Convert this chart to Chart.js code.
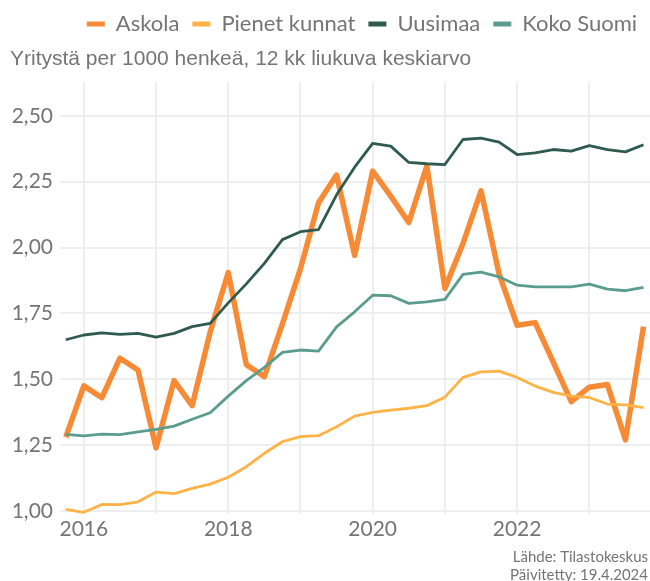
<!DOCTYPE html>
<html>
<head>
<meta charset="utf-8">
<script src="https://cdn.jsdelivr.net/npm/chart.js@4"></script>
<style>
  html, body { margin: 0; padding: 0; background: #fff; }
  #wrap { width: 650px; height: 581px; }
</style>
</head>
<body>
<div id="wrap"><canvas id="chart" width="650" height="581"></canvas></div>
<script>
// quarterly periods, 12-month rolling average
const quarters = [
  "2015Q4",
  "2016Q1", "2016Q2", "2016Q3", "2016Q4",
  "2017Q1", "2017Q2", "2017Q3", "2017Q4",
  "2018Q1", "2018Q2", "2018Q3", "2018Q4",
  "2019Q1", "2019Q2", "2019Q3", "2019Q4",
  "2020Q1", "2020Q2", "2020Q3", "2020Q4",
  "2021Q1", "2021Q2", "2021Q3", "2021Q4",
  "2022Q1", "2022Q2", "2022Q3", "2022Q4",
  "2023Q1", "2023Q2", "2023Q3", "2023Q4"
];

const askola = [
  1.28, 1.475, 1.43, 1.58, 1.535, 1.24, 1.495, 1.40, 1.68,
  1.905, 1.555, 1.51, 1.71, 1.92, 2.17, 2.275, 1.97,
  2.29, 2.195, 2.095, 2.31, 1.845, 2.015, 2.215, 1.90,
  1.705, 1.715, 1.565, 1.415, 1.47, 1.48, 1.27, 1.70
];

const pienetKunnat = [
  1.006, 0.995, 1.025, 1.024, 1.035, 1.072, 1.066, 1.086, 1.102,
  1.128, 1.168, 1.219, 1.263, 1.282, 1.286, 1.32, 1.36,
  1.374, 1.383, 1.39, 1.40, 1.432, 1.507, 1.528, 1.531,
  1.507, 1.474, 1.45, 1.436, 1.431, 1.406, 1.403, 1.392
];

const uusimaa = [
  1.65, 1.668, 1.676, 1.67, 1.674, 1.66, 1.674, 1.70, 1.712,
  1.79, 1.862, 1.94, 2.03, 2.06, 2.068, 2.20, 2.305,
  2.395, 2.385, 2.323, 2.318, 2.315, 2.41, 2.415, 2.40,
  2.353, 2.359, 2.372, 2.366, 2.387, 2.372, 2.363, 2.39
];

const kokoSuomi = [
  1.291, 1.285, 1.292, 1.29, 1.30, 1.31, 1.322, 1.348, 1.373,
  1.436, 1.495, 1.545, 1.602, 1.611, 1.607, 1.699, 1.756,
  1.819, 1.817, 1.788, 1.794, 1.803, 1.898, 1.907, 1.889,
  1.857, 1.851, 1.851, 1.851, 1.861, 1.842, 1.836, 1.849
];

const yTicks = [1.00, 1.25, 1.50, 1.75, 2.00, 2.25, 2.50];
const xGridYears = [2016, 2017, 2018, 2019, 2020, 2021, 2022, 2023];
const xLabelYears = [2016, 2018, 2020, 2022];

const subtitleText = "Yritystä per 1000 henkeä, 12 kk liukuva keskiarvo";
const captionLines = ["Lähde: Tilastokeskus", "Päivitetty: 19.4.2024"];

// "2016Q1" -> 2016.0, "2015Q4" -> 2015.75
function quarterToYear(q) {
  const year = parseInt(q.slice(0, 4), 10);
  const n = parseInt(q.slice(5), 10);
  return year + (n - 1) * 0.25;
}

function toPoints(values) {
  return values.map((v, i) => ({ x: quarterToYear(quarters[i]), y: v }));
}

const textGrey = "#757575";

const captionPlugin = {
  id: "caption",
  afterDraw(chart) {
    const c = chart.ctx;
    c.save();
    c.font = "15px Lato";
    c.fillStyle = textGrey;
    c.textAlign = "right";
    c.textBaseline = "middle";
    captionLines.forEach((t, i) => c.fillText(t, 648, 557 + i * 18));
    c.restore();
  },
};

const ctx = document.getElementById("chart").getContext("2d");

new Chart(ctx, {
  type: "line",
  data: {
    datasets: [
      { label: "Askola", data: toPoints(askola), borderColor: "#F68A35", backgroundColor: "#F68A35", borderWidth: 5.5, order: 1 },
      { label: "Pienet kunnat", data: toPoints(pienetKunnat), borderColor: "#FFB347", backgroundColor: "#FFB347", borderWidth: 2.8, order: 0 },
      { label: "Uusimaa", data: toPoints(uusimaa), borderColor: "#2F5B4F", backgroundColor: "#2F5B4F", borderWidth: 2.8, order: 0 },
      { label: "Koko Suomi", data: toPoints(kokoSuomi), borderColor: "#5A9D8F", backgroundColor: "#5A9D8F", borderWidth: 2.8, order: 0 },
    ],
  },
  options: {
    responsive: false,
    animation: false,
    layout: { padding: { left: 10, right: 0, top: 0, bottom: 0 } },
    elements: {
      point: { radius: 0 },
      line: { tension: 0, fill: false, borderJoinStyle: "round" },
    },
    plugins: {
      tooltip: { enabled: false },
      legend: {
        position: "top",
        align: "end",
        weight: 3000,
        labels: {
          boxWidth: 18,
          boxHeight: 5,
          padding: 13,
          color: textGrey,
          font: { family: "Lato", size: 22 },
          generateLabels: (chart) =>
            chart.data.datasets.map((d, i) => ({
              text: d.label,
              fillStyle: d.borderColor,
              strokeStyle: d.borderColor,
              lineWidth: 0,
              hidden: false,
              datasetIndex: i,
              fontColor: textGrey,
            })),
        },
      },
      subtitle: {
        display: true,
        text: subtitleText,
        align: "start",
        color: textGrey,
        font: { family: "Liberation Sans", size: 21, weight: "normal" },
        padding: { top: 2, bottom: 10 },
      },
    },
    scales: {
      x: {
        type: "linear",
        min: 2015.67,
        max: 2023.84,
        border: { display: false },
        grid: { color: "#EEEEEE", lineWidth: 2, drawTicks: false },
        ticks: {
          autoSkip: false,
          maxRotation: 0,
          padding: 3,
          color: textGrey,
          font: { family: "Lato", size: 21 },
          callback: (v) => (xLabelYears.includes(v) ? String(v) : ""),
        },
        afterBuildTicks: (s) => { s.ticks = xGridYears.map((v) => ({ value: v })); },
        afterFit: (s) => { s.height = 67; },
      },
      y: {
        min: 0.9886,
        max: 2.6275,
        border: { display: false },
        grid: { color: "#EEEEEE", lineWidth: 2, drawTicks: false },
        ticks: {
          padding: 7,
          color: textGrey,
          font: { family: "Lato", size: 21 },
          callback: (v) => v.toFixed(2).replace(".", ","),
        },
        afterBuildTicks: (s) => { s.ticks = yTicks.map((v) => ({ value: v })); },
        afterFit: (s) => { s.width = 50; },
      },
    },
  },
  plugins: [captionPlugin],
});
</script>
</body>
</html>
